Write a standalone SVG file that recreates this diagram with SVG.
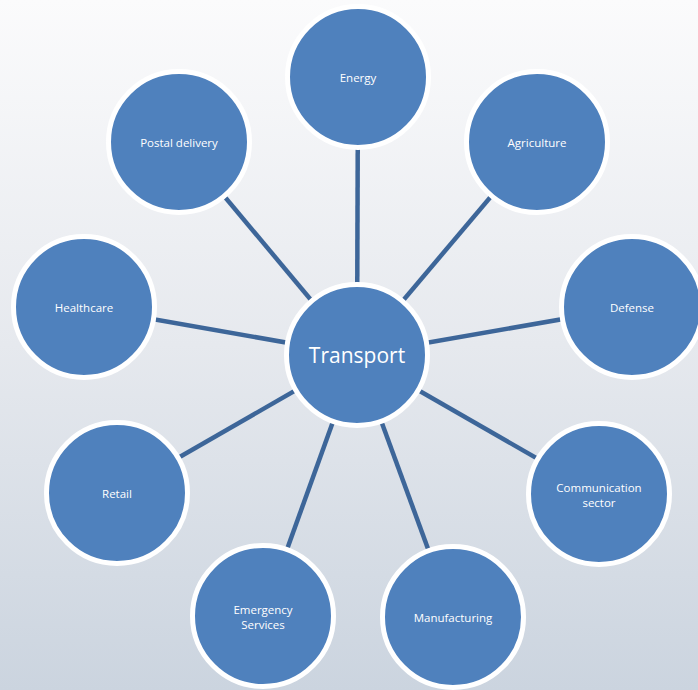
<svg xmlns="http://www.w3.org/2000/svg" width="698" height="690" viewBox="0 0 698 690">
<defs>
<linearGradient id="bg" x1="0" y1="0" x2="0" y2="1">
<stop offset="0" stop-color="#fbfbfc"/>
<stop offset="0.5" stop-color="#e6e9ee"/>
<stop offset="1" stop-color="#cbd4df"/>
</linearGradient>
<style>
.c{fill:#4f81bd;stroke:#ffffff;stroke-width:5}
.t{fill:#ffffff;font-family:"Open Sans","Noto Sans",sans-serif;font-size:11.5px;text-anchor:middle;dominant-baseline:central}
.big{font-size:21px}
.ln line{stroke:#3d6699;stroke-width:4.5}
</style>
</defs>
<rect width="698" height="690" fill="url(#bg)"/>
<g id="connectors" class="ln">
<line x1="357" y1="355" x2="358" y2="77"/>
<line x1="357" y1="355" x2="537" y2="142"/>
<line x1="357" y1="355" x2="632" y2="307"/>
<line x1="357" y1="355" x2="599" y2="494"/>
<line x1="357" y1="355" x2="453" y2="617"/>
<line x1="357" y1="355" x2="263" y2="616"/>
<line x1="357" y1="355" x2="117" y2="493"/>
<line x1="357" y1="355" x2="84" y2="307"/>
<line x1="357" y1="355" x2="179" y2="142"/>
</g>
<g id="energy"><circle class="c" cx="358" cy="77" r="70.5"/><text class="t" x="358" y="77">Energy</text></g>
<g id="agriculture"><circle class="c" cx="537" cy="142" r="70.5"/><text class="t" x="537" y="142">Agriculture</text></g>
<g id="defense"><circle class="c" cx="632" cy="307" r="70.5"/><text class="t" x="632" y="307">Defense</text></g>
<g id="communication"><circle class="c" cx="599" cy="494" r="70.5"/><text class="t" x="599" y="487">Communication</text><text class="t" x="599" y="502">sector</text></g>
<g id="manufacturing"><circle class="c" cx="453" cy="617" r="70.5"/><text class="t" x="453" y="617">Manufacturing</text></g>
<g id="emergency"><circle class="c" cx="263" cy="616" r="70.5"/><text class="t" x="263" y="609">Emergency</text><text class="t" x="263" y="624">Services</text></g>
<g id="retail"><circle class="c" cx="117" cy="493" r="70.5"/><text class="t" x="117" y="493">Retail</text></g>
<g id="healthcare"><circle class="c" cx="84" cy="307" r="70.5"/><text class="t" x="84" y="307">Healthcare</text></g>
<g id="postal"><circle class="c" cx="179" cy="142" r="70.5"/><text class="t" x="179" y="142">Postal delivery</text></g>
<g id="transport"><circle class="c" cx="357" cy="355" r="70.5"/><text class="t big" x="357" y="355">Transport</text></g>
</svg>
